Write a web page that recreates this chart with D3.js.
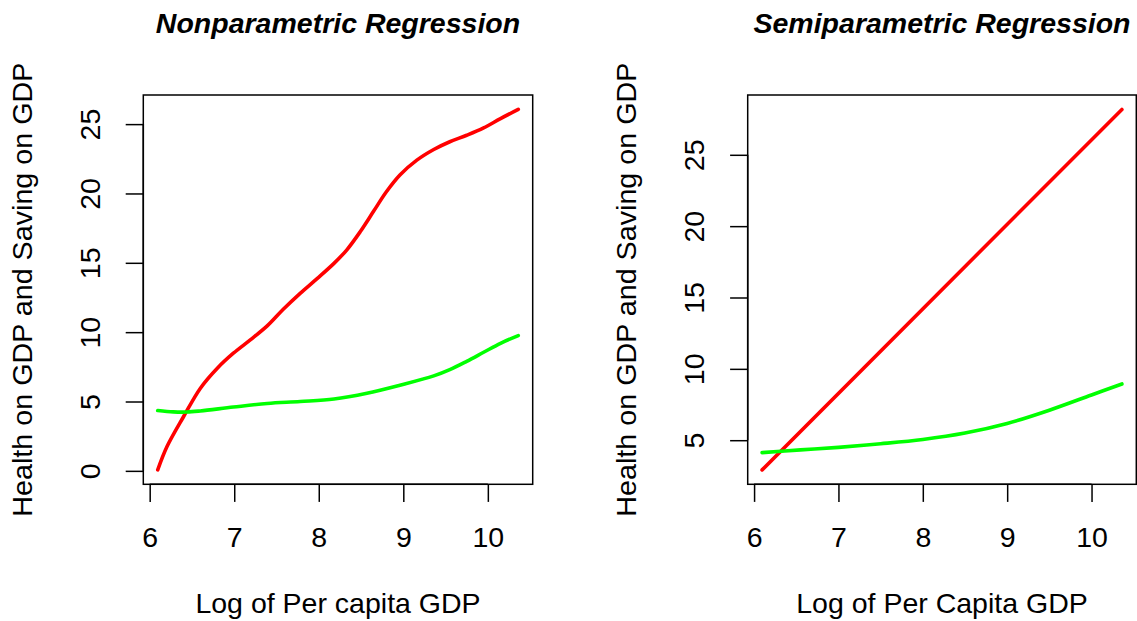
<!DOCTYPE html>
<html>
<head>
<meta charset="utf-8">
<script src="https://cdn.jsdelivr.net/npm/d3@7"></script>
<style>
  html, body { margin: 0; padding: 0; background: #fff; }
  svg { display: block; }
  text { font-family: "Liberation Sans", Arial, Helvetica, sans-serif; fill: #000; }
</style>
</head>
<body>
<svg id="chart" width="1137" height="621"></svg>
<script>
// ---------- Data ----------
const xTicks = [6, 7, 8, 9, 10];

// Left panel: Nonparametric Regression
const npHealthX = [6.095, 6.205, 6.40, 6.60, 6.80, 6.99, 7.19, 7.39, 7.58, 7.78, 7.98, 8.18, 8.33, 8.49, 8.65, 8.80, 8.96, 9.16, 9.36, 9.55, 9.75, 9.95, 10.15, 10.36];
const npHealthY = [0.07, 1.75, 3.90, 5.96, 7.40, 8.48, 9.44, 10.45, 11.65, 12.80, 13.86, 14.96, 15.92, 17.24, 18.73, 20.12, 21.33, 22.40, 23.17, 23.73, 24.20, 24.73, 25.40, 26.06];
const npSavingX = [6.095, 6.28, 6.44, 6.60, 6.99, 7.39, 7.78, 8.18, 8.57, 8.96, 9.36, 9.55, 9.75, 9.95, 10.15, 10.36];
const npSavingY = [4.35, 4.25, 4.24, 4.32, 4.60, 4.86, 5.00, 5.18, 5.60, 6.18, 6.85, 7.30, 7.90, 8.55, 9.20, 9.75];
const npYTicks = [0, 5, 10, 15, 20, 25];

// Right panel: Semiparametric Regression
const spHealthX = [6.095, 10.36];
const spHealthY = [2.92, 28.18];
const spSavingX = [6.095, 6.55, 7.0, 7.5, 8.0, 8.5, 9.0, 9.5, 10.0, 10.36];
const spSavingY = [4.13, 4.32, 4.50, 4.75, 5.05, 5.50, 6.17, 7.10, 8.17, 8.94];
const spYTicks = [5, 10, 15, 20, 25];

const titles = ["Nonparametric Regression", "Semiparametric Regression"];
const xLabels = ["Log of Per capita GDP", "Log of Per Capita GDP"];
const yLabel = "Health on GDP and Saving on GDP";
const colors = { health: "#FF0000", saving: "#00FF00" };

// ---------- Drawing ----------
const svg = d3.select("#chart");
const FS = 28.5;

function padExtent(arr) {
  const [a, b] = d3.extent(arr);
  const p = (b - a) * 0.04;
  return [a - p, b + p];
}

function panel(cfg) {
  const { left, right, top, bottom } = cfg;
  const allX = cfg.series.flatMap(s => s.x);
  const allY = cfg.series.flatMap(s => s.y);
  const x = d3.scaleLinear().domain(padExtent(allX)).range([left, right]);
  const y = d3.scaleLinear().domain(padExtent(allY)).range([bottom, top]);
  const g = svg.append("g");

  // lines
  const line = d3.line().x(d => x(d[0])).y(d => y(d[1])).curve(d3.curveCatmullRom.alpha(0.5));
  cfg.series.forEach(s => {
    const pts = s.x.map((v, i) => [v, s.y[i]]);
    g.append("path").datum(pts)
      .attr("d", line)
      .attr("fill", "none")
      .attr("stroke", s.color)
      .attr("stroke-width", 3.6)
      .attr("stroke-linecap", "round")
      .attr("stroke-linejoin", "round");
  });

  // box
  g.append("rect")
    .attr("x", left).attr("y", top)
    .attr("width", right - left).attr("height", bottom - top)
    .attr("fill", "none").attr("stroke", "#000").attr("stroke-width", 1.5);

  // x axis
  const xAxis = d3.axisBottom(x).tickValues(xTicks).tickFormat(d3.format("d"))
    .tickSize(17.6).tickSizeOuter(0);
  const xa = g.append("g").attr("transform", `translate(0,${bottom})`).call(xAxis);
  xa.select(".domain").attr("d", `M${x(xTicks[0])},0H${x(xTicks[xTicks.length - 1])}`).attr("stroke-width", 1.5);
  xa.selectAll(".tick line").attr("stroke-width", 1.5);
  xa.selectAll(".tick text").attr("font-size", FS).attr("font-family", "Liberation Sans, Arial, sans-serif")
    .attr("y", 63).attr("dy", null);

  // y axis
  const yAxis = d3.axisLeft(y).tickValues(cfg.yTicks).tickFormat(d3.format("d"))
    .tickSize(17.6).tickSizeOuter(0);
  const ya = g.append("g").attr("transform", `translate(${left},0)`).call(yAxis);
  ya.select(".domain").attr("d", `M0,${y(cfg.yTicks[0])}V${y(cfg.yTicks[cfg.yTicks.length - 1])}`).attr("stroke-width", 1.5);
  ya.selectAll(".tick line").attr("stroke-width", 1.5);
  ya.selectAll(".tick text")
    .attr("font-size", FS).attr("font-family", "Liberation Sans, Arial, sans-serif")
    .attr("dy", null).attr("x", 0).attr("y", 0)
    .attr("text-anchor", "middle")
    .attr("transform", `translate(-43.3,0) rotate(-90)`);

  // title
  svg.append("text")
    .attr("x", (left + right) / 2).attr("y", 33)
    .attr("text-anchor", "middle")
    .attr("font-size", FS).attr("font-weight", "bold").attr("font-style", "italic")
    .text(cfg.title);

  // x label
  svg.append("text")
    .attr("x", (left + right) / 2).attr("y", 613)
    .attr("text-anchor", "middle")
    .attr("font-size", FS)
    .text(cfg.xLabel);

  // y label
  svg.append("text")
    .attr("transform", `translate(${left - 111.3},${(top + bottom) / 2}) rotate(-90)`)
    .attr("text-anchor", "middle")
    .attr("font-size", FS)
    .attr("textLength", 454).attr("lengthAdjust", "spacingAndGlyphs")
    .text(yLabel);
}

panel({
  left: 143.3, right: 532.7, top: 95, bottom: 484.3,
  title: titles[0], xLabel: xLabels[0], yTicks: npYTicks,
  series: [
    { x: npHealthX, y: npHealthY, color: colors.health },
    { x: npSavingX, y: npSavingY, color: colors.saving }
  ]
});

panel({
  left: 747.7, right: 1136.3, top: 95, bottom: 484.3,
  title: titles[1], xLabel: xLabels[1], yTicks: spYTicks,
  series: [
    { x: spHealthX, y: spHealthY, color: colors.health },
    { x: spSavingX, y: spSavingY, color: colors.saving }
  ]
});
</script>
</body>
</html>
